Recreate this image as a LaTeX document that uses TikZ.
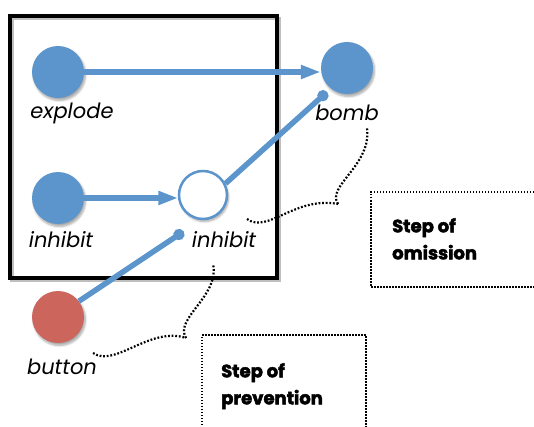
\documentclass[tikz,border=0pt]{standalone}
\usepackage{fontspec}
\setmainfont{Poppins}
\usetikzlibrary{arrows.meta,shadows.blur}
\definecolor{nodeblue}{RGB}{92,149,204}
\definecolor{nodered}{RGB}{204,101,92}
\tikzset{
  state/.style={circle, minimum size=52pt, inner sep=0pt, fill=nodeblue,
    blur shadow={shadow xshift=1.5pt, shadow yshift=-2.5pt, shadow blur steps=5, shadow opacity=35}},
  hollow/.style={circle, minimum size=48pt, inner sep=0pt, draw=nodeblue, line width=2.5pt, fill=white,
    blur shadow={shadow xshift=1.5pt, shadow yshift=-2.5pt, shadow blur steps=5, shadow opacity=35}},
  lbl/.style={font=\fontsize{21}{23}\selectfont\itshape, inner sep=0pt},
  conn/.style={draw=nodeblue, line width=5.5pt},
  arr/.style={conn, -{Triangle[length=20pt,width=13pt]}},
  dotend/.style={conn, -{Circle[length=11pt]}},
  brace/.style={line width=2.2pt, dash pattern=on 1.8pt off 1.8pt},
  notebox/.style={line width=1.5pt, dash pattern=on 1.5pt off 1.5pt},
  notetext/.style={font=\fontsize{18}{27}\selectfont\bfseries\addfontfeatures{FakeBold=2.5}, align=left, anchor=north west, inner sep=0pt}
}
\begin{document}
\begin{tikzpicture}[x=1pt,y=-1pt]
\useasboundingbox (0,0) rectangle (534,427);
\clip (0,0) rectangle (534,427);
% frame
\draw[line width=3.5pt, black!25] (12,18.5) rectangle (279,280.5);
\draw[line width=3.5pt] (10,16) rectangle (277,278);
% nodes
\node[state] (explode) at (58,72) {};
\node[state] (inh1) at (58,198) {};
\node[hollow] (inh2) at (203,195) {};
\node[state] (bomb) at (347,68) {};
\node[state, fill=nodered] (button) at (58,317) {};
\coordinate (bombdot) at (322,89);
\coordinate (inhdot) at (179,228);
% labels
\node[lbl] (lexplode) at (72,113) {explode};
\node[lbl] (linh1) at (61,240) {inhibit};
\node[lbl] (linh2) at (224,240) {inhibit};
\node[lbl] (lbomb) at (347,113) {bomb};
\node[lbl] (lbutton) at (62,367) {button};
% connectors
\draw[arr] (explode.east) -- (bomb.west |- explode.east);
\draw[arr] (inh1.east) -- ([xshift=0.5pt]inh2.west |- inh1.east);
\draw[dotend] (inh2.27) -- ([xshift=5pt,yshift=-3pt]bombdot);
\draw[dotend] (button.37) -- ([xshift=4.5pt,yshift=-3.5pt]inhdot);
% note boxes
\draw[notebox] (540,192) -- (371,192) -- (371,287) -- (540,287);
\draw[notebox] (202,440) -- (202,335) -- (366,335) -- (366,440);
\node[notetext] (tomit) at (392,218) {Step of\\omission};
\node[notetext] (tprev) at (221,363) {Step of\\prevention};
% braces
\draw[brace] (247,219) .. controls (268,234) and (295,196) .. (338,204);
\draw[brace] (338,204) .. controls (326,186) and (372,165) .. (367,128);
\draw[brace] (93,353) .. controls (115,368) and (150,326) .. (186,338);
\draw[brace] (186,338) .. controls (174,318) and (220,296) .. (213,264);
\end{tikzpicture}
\end{document}
